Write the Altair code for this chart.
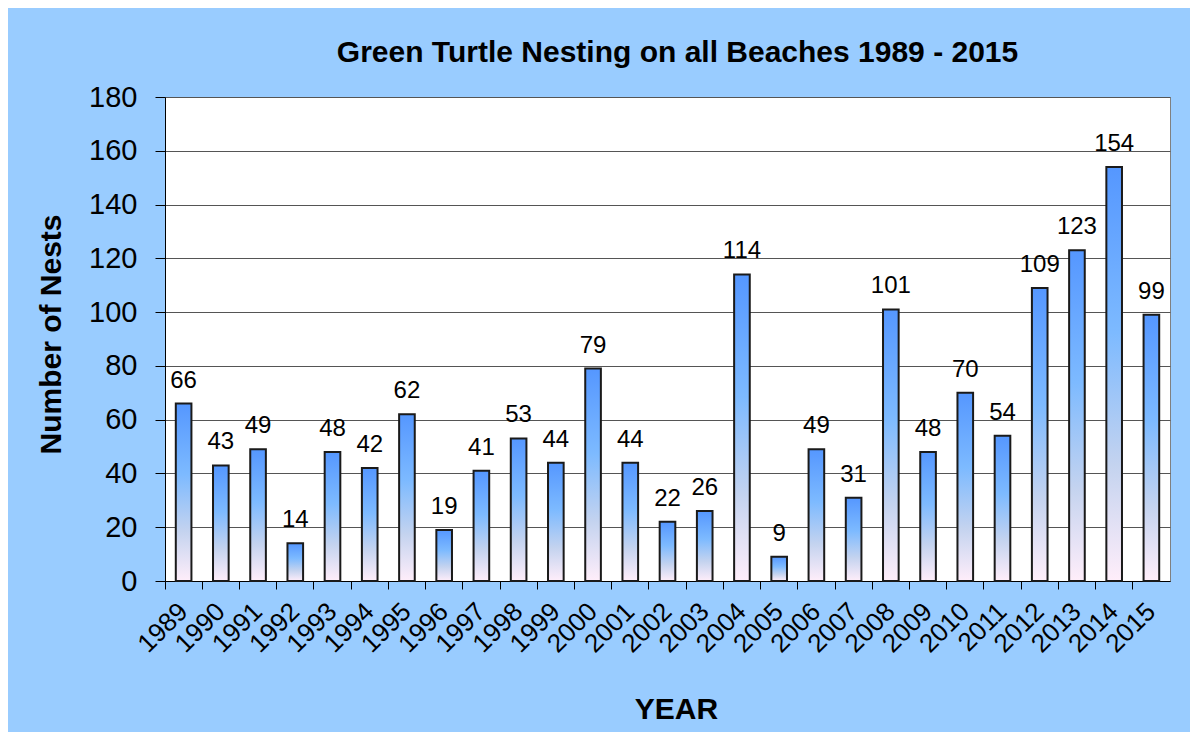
import altair as alt
import pandas as pd

years = ["1989", "1990", "1991", "1992", "1993", "1994", "1995", "1996", "1997",
         "1998", "1999", "2000", "2001", "2002", "2003", "2004", "2005", "2006",
         "2007", "2008", "2009", "2010", "2011", "2012", "2013", "2014", "2015"]
nests = [66, 43, 49, 14, 48, 42, 62, 19, 41, 53, 44, 79, 44, 22, 26, 114, 9, 49,
         31, 101, 48, 70, 54, 109, 123, 154, 99]
y_ticks = [0, 20, 40, 60, 80, 100, 120, 140, 160, 180]

df = pd.DataFrame({"year": years, "nests": nests})

W, H = 1005, 484
FONT = "Liberation Sans"

gradient = alt.LinearGradient(
    gradient="linear", x1=0, y1=0, x2=0, y2=1,
    stops=[
        alt.GradientStop(color="#5597FF", offset=0),
        alt.GradientStop(color="#7DBAFF", offset=0.4),
        alt.GradientStop(color="#C4D3EF", offset=0.72),
        alt.GradientStop(color="#FFEEFA", offset=1),
    ],
)

x_enc = alt.X(
    "year:O", sort=None,
    scale=alt.Scale(paddingInner=0, paddingOuter=0),
    axis=alt.Axis(
        title="YEAR", bandPosition=0,
        labelAngle=-45, labelAlign="right", labelBaseline="middle",
        labelFontSize=26, labelFont=FONT, labelColor="black", labelPadding=18,
        tickSize=8, tickColor="black", domainColor="black",
        titleFontSize=30, titleFont=FONT, titleFontWeight="bold", titleColor="black",
        titleX=511, titleY=137, titleBaseline="alphabetic",
        grid=False,
    ),
)
y_enc = alt.Y(
    "nests:Q",
    scale=alt.Scale(domain=[0, 180], nice=False),
    axis=alt.Axis(
        title="Number of Nests", values=y_ticks,
        labelFontSize=29, labelFont=FONT, labelColor="black", labelPadding=18,
        tickSize=10, tickColor="black", domainColor="black",
        grid=True, gridColor="#555555", gridWidth=1,
        titleFontSize=30, titleFont=FONT, titleFontWeight="bold", titleColor="black",
        titleX=-105, titleY=237, titleBaseline="alphabetic",
    ),
)

bars = alt.Chart(df).mark_bar(
    color=gradient, stroke="#1a1a1a", strokeWidth=2,
    width=alt.RelativeBandSize(0.42),
).encode(x=x_enc, y=y_enc)

labels = alt.Chart(df).mark_text(
    dy=-16, baseline="alphabetic", fontSize=24, font=FONT, color="black"
).encode(x=alt.X("year:O", sort=None), y="nests:Q", text="nests:Q")

chart = (bars + labels).properties(
    width=W, height=H,
    title=alt.TitleParams(
        "Green Turtle Nesting on all Beaches 1989 - 2015",
        fontSize=30, font=FONT, fontWeight="bold", color="black",
        anchor="middle", frame="group", offset=15, dx=10,
    ),
    autosize=alt.AutoSizeParams(type="none"),
    padding={"left": 157, "top": 89, "right": 20, "bottom": 151},
    background="#99CCFF",
).configure_view(stroke="#808080", strokeWidth=1, fill="white")

chart.save("out.html", embed_options={"renderer": "svg", "actions": False})
